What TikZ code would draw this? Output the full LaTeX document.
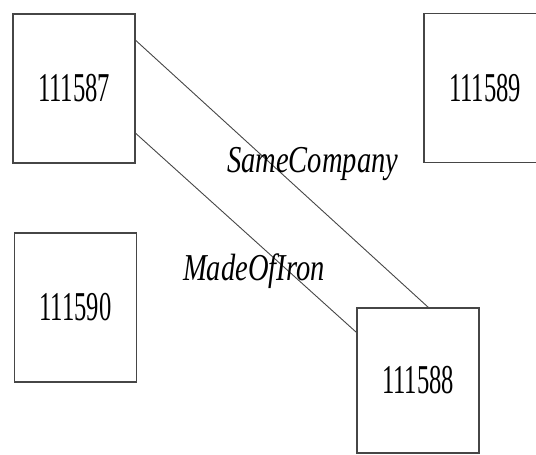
\documentclass[tikz,border=0pt]{standalone}
\usepackage{fontspec}
\setmainfont{Liberation Serif}
\usepackage{graphicx}
\definecolor{edge}{RGB}{70,70,70}
\newcommand{\idtxt}[1]{\scalebox{0.6}[1]{\fontsize{41}{41}\selectfont #1}}
\newcommand{\reltxt}[1]{\scalebox{0.75}[1]{\fontsize{38}{38}\selectfont\itshape #1}}

\begin{document}
\begin{tikzpicture}[x=1pt, y=-1pt,
    idbox/.style={draw=edge, line width=1.3pt, fill=white, inner sep=0pt,
                  minimum width=122pt, minimum height=149pt},
    rel/.style={draw=edge, line width=0.9pt}]
    \useasboundingbox (0,0) rectangle (536,455);

    %% Boxes
    \node[idbox] (b87) at (74,88.5)  {\idtxt{111587}};
    \node[idbox] (b89) at (485,88)   {\idtxt{111589}};
    \node[idbox] (b90) at (75.5,307.5) {\idtxt{111590}};
    \node[idbox, minimum height=145pt] (b88) at (418,380.5) {\idtxt{111588}};

    %% Relations
    \draw[rel] (b87.38.8) -- (b88.82.5);
    \draw[rel] (b87.-36.7) -- (b88.142.5);

    %% Relation labels
    \node[anchor=base west, inner sep=0pt] (lsame) at (227,172) {\reltxt{SameCompany}};
    \node[anchor=base west, inner sep=0pt] (lmade) at (183,280) {\reltxt{MadeOfIron}};

\end{tikzpicture}
\end{document}
